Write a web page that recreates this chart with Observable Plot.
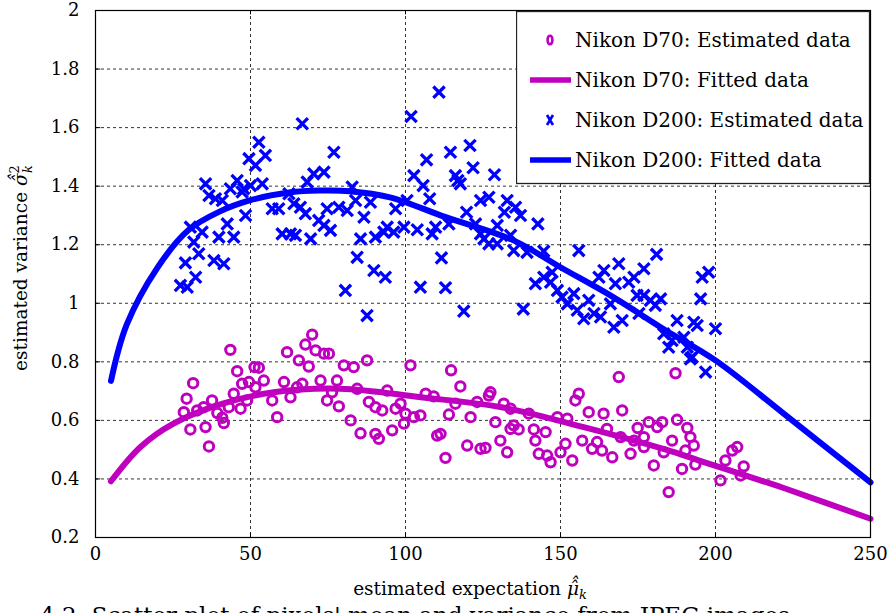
<!DOCTYPE html>
<html>
<head>
<meta charset="utf-8">
<script src="https://cdn.jsdelivr.net/npm/d3@7"></script>
<script src="https://cdn.jsdelivr.net/npm/@observablehq/plot@0.6"></script>
<style>
  html, body { margin: 0; padding: 0; background: #fff; overflow: hidden; }
  #wrap { position: relative; width: 890px; height: 613px; font-family: "DejaVu Serif", serif; }
  #caption { position: absolute; left: 40px; top: 602px; font-family: "DejaVu Serif", serif; font-size: 23px; white-space: nowrap; color: #000; }
</style>
</head>
<body>
<div id="wrap"></div>
<script>
// Axis ticks
const xTicks = [0, 50, 100, 150, 200, 250];
const yTicks = [0.2, 0.4, 0.6, 0.8, 1.0, 1.2, 1.4, 1.6, 1.8, 2.0];

// Nikon D70: estimated (expectation, variance) pairs
const d70X = [43.5,31.5,29.4,28.5,30.6,35.5,36.6,37.6,34.9,39.3,40.9,41.4,43,46.8,44.6,45.7,47.3,49.5,51.3,52.7,54.3,51.6,57,58.6,60.8,61.8,62.9,65.6,66.7,67.7,68.8,69.9,71,73.7,75.3,72.6,74.7,77.9,78.5,80.1,83.3,82.3,85.5,84.4,87.6,88.2,90.3,90.3,91.4,92.5,94.1,95.7,96.8,99.5,101.6,100,102.7,32.8,48.9,65,76.3,
  114.7,117.7,98.4,104.8,106.5,109.1,114,116.1,121,123.1,126.9,127.4,110.2,111.3,112.9,119.9,124.2,125.8,130.6,132.8,129,131.7,133.9,134.9,136.5,139.8,141.4,141.9,143,145.2,145.7,146.8,149,150,151.6,152.2,153.8,154.8,155.9,157,159.1,160.2,161.8,163.4,163.9,165,166.7,168.8,169.9,169.4,172.6,173.7,174.9,176.9,178.5,180.1,181.2,182.8,183.3,184.9,186,187.6,187.1,189.2,190.3,190.9,191.9,193,193.5,201.6,203.2,205.4,207,208.1,209.1,176.9,133.9];
const d70Y = [0.841,0.727,0.674,0.628,0.569,0.577,0.511,0.668,0.645,0.625,0.609,0.591,0.645,0.640,0.691,0.768,0.725,0.731,0.782,0.780,0.736,0.713,0.668,0.611,0.731,0.833,0.679,0.805,0.725,0.859,0.784,0.893,0.839,0.828,0.828,0.736,0.668,0.736,0.648,0.788,0.782,0.600,0.556,0.708,0.805,0.663,0.645,0.554,0.537,0.634,0.702,0.566,0.640,0.589,0.788,0.623,0.611,0.634,0.668,0.713,0.696,
  0.771,0.716,0.657,0.617,0.691,0.682,0.620,0.657,0.611,0.663,0.685,0.696,0.548,0.554,0.472,0.514,0.503,0.506,0.531,0.491,0.594,0.657,0.640,0.583,0.569,0.623,0.569,0.531,0.486,0.560,0.480,0.457,0.611,0.491,0.520,0.606,0.463,0.668,0.691,0.531,0.628,0.503,0.526,0.497,0.623,0.571,0.474,0.748,0.634,0.543,0.486,0.531,0.574,0.509,0.594,0.446,0.577,0.594,0.491,0.355,0.531,0.602,0.761,0.434,0.497,0.574,0.543,0.514,0.449,0.395,0.463,0.497,0.509,0.412,0.443,0.543,0.571];

// Nikon D70: fitted curve
const d70FitX = [5, 14.5, 25, 41, 57.5, 79, 105, 131, 157.5, 184, 195, 214.5, 222, 250];
const d70FitY = [0.392, 0.509, 0.588, 0.657, 0.696, 0.708, 0.679, 0.645, 0.577, 0.500, 0.462, 0.395, 0.369, 0.264];

// Nikon D200: estimated (expectation, variance) pairs
const d200X = [66.7,52.7,49.5,54.8,51.6,76.9,70.4,73.7,68.3,35.5,45.7,43.5,47.8,53.8,50,36.6,38.7,40.9,47.3,62.4,64,66.1,57,59.1,67.7,74.7,78.5,81.2,82.8,83.9,88.7,86.6,48.4,72,73.7,75.8,60.2,62.9,64.5,69.4,30.6,34.4,31.7,42.5,39.8,44.6,33.3,29,38.2,41.4,32.3,27.4,29.6,85.5,90.3,93,84.4,89.8,93.5,80.6,87.6,
  110.8,101.8,120.8,114.5,106.8,121.8,102.7,116.1,116.9,128.7,105.7,117.7,107.8,100.5,96.8,124.2,126.9,132.8,131.9,135.5,137.1,119.7,142.7,114,109.7,103.8,99.5,108.6,122.6,124.2,129.6,125.3,126.9,129.6,133.9,134.9,139.2,144.6,155.9,94.1,96.2,104.8,112.9,111.6,118.8,138,141.9,144.6,147.3,146.8,149,150.5,152.2,154.3,155.4,157.5,159.1,160.8,162.4,164,162.9,167.2,169.9,166.1,167.7,168.8,172,173.7,176.9,174.7,176.9,179,182.3,180.6,181,175.3,187.6,183.3,186,184.9,189.8,193,194.1,195.2,195.7,197.8,200,190.9,192.5,191.9,196.8];
const d200Y = [1.613,1.550,1.494,1.505,1.471,1.516,1.442,1.448,1.414,1.408,1.419,1.391,1.391,1.408,1.402,1.368,1.357,1.351,1.380,1.374,1.340,1.328,1.323,1.323,1.306,1.323,1.328,1.317,1.397,1.351,1.345,1.294,1.300,1.283,1.266,1.249,1.237,1.237,1.232,1.220,1.260,1.243,1.209,1.271,1.226,1.226,1.169,1.138,1.146,1.135,1.089,1.061,1.055,1.220,1.226,1.243,1.157,1.112,1.089,1.044,0.958,
  1.721,1.638,1.539,1.516,1.490,1.463,1.436,1.436,1.419,1.439,1.402,1.408,1.357,1.351,1.323,1.351,1.362,1.351,1.311,1.328,1.300,1.311,1.271,1.271,1.260,1.251,1.260,1.237,1.271,1.237,1.266,1.220,1.203,1.203,1.232,1.180,1.174,1.178,1.180,1.260,1.243,1.055,1.053,1.155,0.973,0.980,1.067,1.089,1.106,1.072,1.044,1.021,0.998,1.033,0.976,0.947,1.010,0.965,1.089,1.112,0.953,0.918,0.941,0.998,1.067,1.135,1.072,1.089,1.118,1.027,1.027,1.010,1.015,0.993,1.167,0.965,0.941,0.896,0.873,0.850,0.884,0.935,0.924,1.015,1.089,1.106,0.913,0.850,0.816,0.810,0.765];

// Nikon D200: fitted curve
const d200FitX = [5, 10, 20, 30, 40, 50, 63, 72, 82, 95, 113, 135, 150, 167, 184, 200, 222, 250];
const d200FitY = [0.735, 0.925, 1.122, 1.25, 1.313, 1.352, 1.379, 1.385, 1.383, 1.362, 1.294, 1.214, 1.123, 1.021, 0.907, 0.805, 0.623, 0.388];

const MAGENTA = "#bf00bf";
const BLUE = "#0000ff";

const zip = (xs, ys) => xs.map((x, i) => ({x, y: ys[i]}));
const d70 = zip(d70X, d70Y);
const d70Fit = zip(d70FitX, d70FitY);
const d200 = zip(d200X, d200Y);
const d200Fit = zip(d200FitX, d200FitY);

const innerX = xTicks.slice(1, -1);
const innerY = yTicks.slice(1, -1);

const chart = Plot.plot({
  width: 890,
  height: 613,
  marginLeft: 95,
  marginRight: 20,
  marginTop: 10,
  marginBottom: 76,
  style: {fontFamily: "DejaVu Serif, serif", fontSize: "18px", color: "#000", background: "#fff", overflow: "visible"},
  x: {domain: [0, 250], label: null},
  y: {domain: [0.2, 2], label: null},
  marks: [
    Plot.gridX(innerX, {stroke: "#000", strokeOpacity: 0.8, strokeWidth: 1, strokeDasharray: "3,3"}),
    Plot.gridY(innerY, {stroke: "#000", strokeOpacity: 0.8, strokeWidth: 1, strokeDasharray: "3,3"}),
    // small inward tick marks on all four sides
    Plot.ruleY(innerY, {x1: 0, x2: 1.7, stroke: "#000"}),
    Plot.ruleY(innerY, {x1: 248.3, x2: 250, stroke: "#000"}),
    Plot.ruleX(innerX, {y1: 0.2, y2: 0.215, stroke: "#000"}),
    Plot.ruleX(innerX, {y1: 1.985, y2: 2, stroke: "#000"}),
    Plot.axisX(xTicks, {tickSize: 0, tickPadding: 10, fontSize: 18}),
    Plot.axisY(yTicks, {tickSize: 0, tickPadding: 16, fontSize: 18, tickFormat: d => String(+d.toFixed(1))}),
    Plot.dot(d70, {x: "x", y: "y", r: 4.7, stroke: MAGENTA, strokeWidth: 3, fill: "none"}),
    Plot.line(d70Fit, {x: "x", y: "y", stroke: MAGENTA, strokeWidth: 6, curve: "catmull-rom"}),
    Plot.dot(d200, {x: "x", y: "y", symbol: "times", r: 5.2, stroke: BLUE, strokeWidth: 3.3}),
    Plot.line(d200Fit, {x: "x", y: "y", stroke: BLUE, strokeWidth: 6, curve: "catmull-rom"}),
    Plot.frame({stroke: "#000", strokeWidth: 1.2})
  ]
});

const wrap = document.getElementById("wrap");
wrap.appendChild(chart);

// Axis titles with stacked accents, superscript and subscript
const svg = d3.select(chart);
const xt = svg.append("text")
  .attr("x", 470).attr("y", 595)
  .attr("text-anchor", "middle")
  .attr("font-family", "DejaVu Serif, serif")
  .attr("font-size", 18.5)
  .attr("fill", "#000");
xt.append("tspan").text("estimated expectation ");
xt.append("tspan").attr("font-style", "italic").text("\u03bc\u0302\u0302");
xt.append("tspan").attr("font-style", "italic").attr("font-size", 13).attr("dy", 4).text("k");

const yt = svg.append("text")
  .attr("transform", "translate(27,268) rotate(-90)")
  .attr("text-anchor", "middle")
  .attr("font-family", "DejaVu Serif, serif")
  .attr("font-size", 18.5)
  .attr("fill", "#000");
yt.append("tspan").text("estimated variance ");
yt.append("tspan").attr("font-style", "italic").text("\u03c3\u0302\u0302");
yt.append("tspan").attr("font-size", 13).attr("dy", -8).text("2");
yt.append("tspan").attr("font-style", "italic").attr("font-size", 13).attr("dx", -8).attr("dy", 13).text("k");

// Legend box drawn over the plot
const leg = d3.select(wrap).append("svg")
  .attr("width", 354).attr("height", 174)
  .style("position", "absolute").style("left", "515.5px").style("top", "10.5px");
leg.append("rect").attr("x", 0.5).attr("y", 0.5).attr("width", 353).attr("height", 172)
  .attr("fill", "#fff").attr("stroke", "#222").attr("stroke-width", 1.3);
const entries = [
  {label: "Nikon D70: Estimated data", kind: "circle", color: MAGENTA},
  {label: "Nikon D70: Fitted data", kind: "line", color: MAGENTA},
  {label: "Nikon D200: Estimated data", kind: "cross", color: BLUE},
  {label: "Nikon D200: Fitted data", kind: "line", color: BLUE}
];
entries.forEach((e, i) => {
  const cy = 29 + i * 40;
  if (e.kind === "circle") {
    leg.append("ellipse").attr("cx", 34).attr("cy", cy).attr("rx", 2.4).attr("ry", 4.2)
      .attr("fill", "none").attr("stroke", e.color).attr("stroke-width", 2.6);
  } else if (e.kind === "cross") {
    leg.append("path").attr("d", `M31,${cy - 5}L37,${cy + 5}M31,${cy + 5}L37,${cy - 5}`)
      .attr("stroke", e.color).attr("stroke-width", 2.6).attr("fill", "none");
  } else {
    leg.append("line").attr("x1", 14).attr("x2", 55).attr("y1", cy).attr("y2", cy)
      .attr("stroke", e.color).attr("stroke-width", 5.5);
  }
  leg.append("text").attr("x", 59).attr("y", cy + 7)
    .attr("font-family", "DejaVu Serif, serif").attr("font-size", 20).attr("fill", "#000")
    .text(e.label);
});

// Figure caption beneath the chart
const cap = document.createElement("div");
cap.id = "caption";
cap.textContent = "4.2: Scatter plot of pixels' mean and variance from JPEG images";
wrap.appendChild(cap);
</script>
</body>
</html>
